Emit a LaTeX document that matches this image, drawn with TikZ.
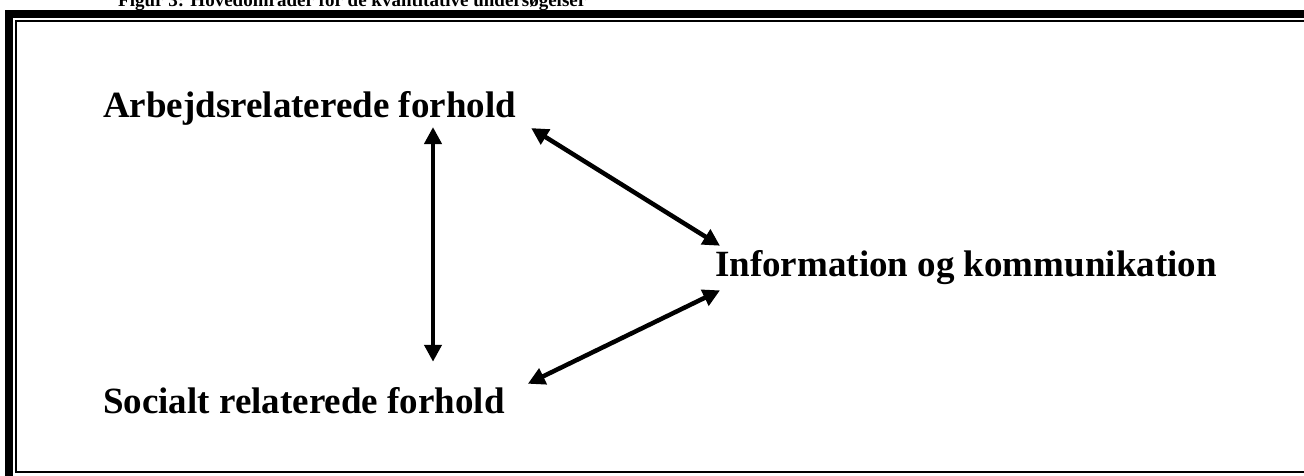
\documentclass[tikz,border=0pt]{standalone}
\usepackage{fontspec}
\setmainfont{Liberation Serif}
\usetikzlibrary{arrows.meta}

\begin{document}
\begin{tikzpicture}[x=1pt, y=-1pt,
    lbl/.style={anchor=base west, inner sep=0pt, font=\fontsize{37}{41}\selectfont\bfseries},
    arr/.style={line width=4.5pt, {Triangle[length=17pt,width=17pt]}-{Triangle[length=17pt,width=17pt]}}]
    \useasboundingbox (0, 0) rectangle (1304, 476);
    \clip (0, 0) rectangle (1304, 476);

    % ramme
    \draw[line width=8pt] (9, 14) rectangle (1330, 480);
    \draw[line width=2pt] (15.5, 21) rectangle (1320, 472);

    % overskrift
    \node[anchor=base west, inner sep=0pt, font=\fontsize{19}{23}\selectfont\bfseries] (titel) at (118, 7)
        {Figur 3: Hovedområder for de kvantitative undersøgelser};

    % tekster
    \node[lbl] (arb) at (103, 118) {Arbejdsrelaterede forhold};
    \node[lbl] (soc) at (103, 413) {Socialt relaterede forhold};
    \node[lbl] (info) at (715, 276) {Information og kommunikation};

    % pile
    \draw[arr] ([xshift=330pt, yshift=-1pt]arb.south west) -- ([xshift=330pt, yshift=25pt]soc.north west);
    \draw[arr] ([xshift=15pt, yshift=-2pt]arb.south east) -- ([xshift=5pt, yshift=4pt]info.north west);
    \draw[arr] ([xshift=5pt, yshift=-6pt]info.south west) -- ([xshift=23pt, yshift=3pt]soc.north east);
\end{tikzpicture}
\end{document}
